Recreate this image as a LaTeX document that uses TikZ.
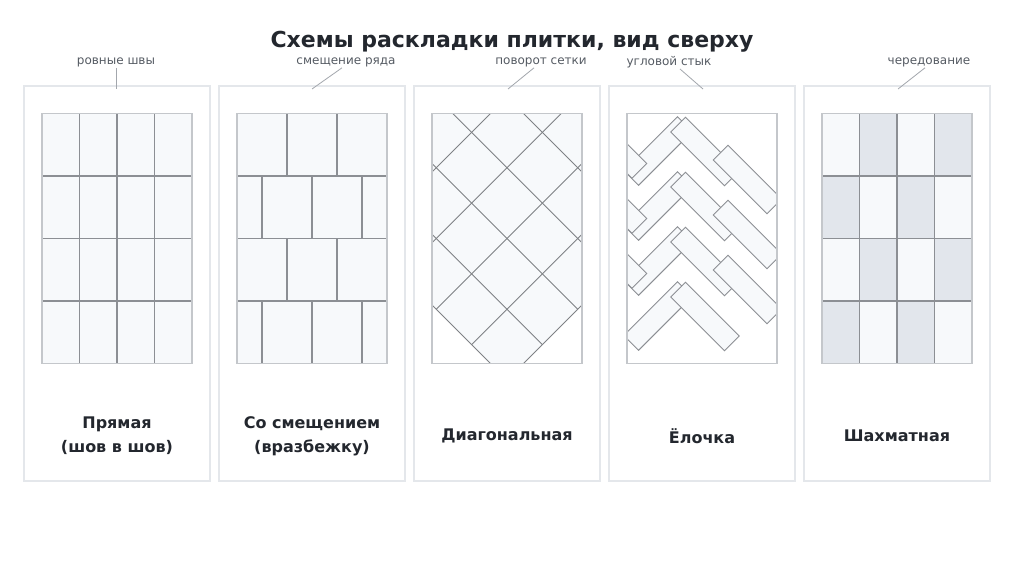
\documentclass[tikz,border=0pt]{standalone}
\usepackage{fontspec}
\setmainfont{DejaVu Sans}

\definecolor{ramka}{HTML}{E4E7EB}
\definecolor{kontur}{HTML}{C4C7CB}
\definecolor{shovcol}{HTML}{8C8F94}
\definecolor{svetl}{HTML}{F7F9FB}
\definecolor{temn}{HTML}{E2E6EC}
\definecolor{tekst}{HTML}{23272E}
\definecolor{seryj}{HTML}{555B63}
\definecolor{vynos}{HTML}{A3A7AD}

\tikzset{
  panel/.style={draw=ramka, line width=1.5pt, fill=white, minimum width=186pt, minimum height=395pt, inner sep=0pt},
  pole/.style={draw=kontur, line width=1.5pt},
  shov/.style={draw=shovcol, line width=1.2pt},
  diag/.style={draw=shovcol!90!black, line width=0.9pt},
  elka/.style={draw=shovcol, fill=svetl, line width=0.9pt},
  nazv/.style={font=\bfseries\fontsize{16}{24}\selectfont, text=tekst, align=center},
  pomet/.style={font=\fontsize{12}{14}\selectfont, text=seryj, inner sep=1pt},
  vynoska/.style={draw=vynos, line width=0.8pt},
}

\begin{document}
\begin{tikzpicture}[x=1pt, y=-1pt]
\useasboundingbox[fill=white] (0,0) rectangle (1024,576);

\node[font=\bfseries\fontsize{22}{26}\selectfont, text=tekst] (zag) at (512,42) {Схемы раскладки плитки, вид сверху};

% panels
\foreach \name/\cx in {pryam/117, smesch/312, diagon/507, elochka/702, shakh/897}
  \node[panel] (\name) at (\cx,283.5) {};

% 1: pryamaya
\fill[svetl] (42,113.5) rectangle (192,363.5);
\foreach \i in {1,2,3} {
  \draw[shov] (42+37.5*\i,113.5) -- (42+37.5*\i,363.5);
  \draw[shov] (42,113.5+62.5*\i) -- (192,113.5+62.5*\i);
}
\draw[pole] (42,113.5) rectangle (192,363.5);

% 2: so smescheniem
\fill[svetl] (237,113.5) rectangle (387,363.5);
\foreach \i in {1,2,3}
  \draw[shov] (237,113.5+62.5*\i) -- (387,113.5+62.5*\i);
\foreach \r in {0,2} {
  \foreach \x in {287,337}
    \draw[shov] (\x,113.5+62.5*\r) -- (\x,176+62.5*\r);
  \foreach \x in {262,312,362}
    \draw[shov] (\x,176+62.5*\r) -- (\x,238.5+62.5*\r);
}
\draw[pole] (237,113.5) rectangle (387,363.5);

% 3: diagonal
\begin{scope}
  \clip (432,113.5) -- (582,113.5) -- (582,304.9) -- (523.4,363.5) -- (490.6,363.5) -- (432,304.9) -- cycle;
  \fill[svetl] (432,113.5) rectangle (582,363.5);
  \foreach \k in {-2,...,1} {
    \draw[diag] (400,{131.5+70.71*\k}) -- (600,{331.5+70.71*\k});
    \draw[diag] (400,{345.5+70.71*\k}) -- (600,{145.5+70.71*\k});
  }
\end{scope}
\draw[diag] (432,304.9) -- (490.6,363.5);
\draw[diag] (582,304.9) -- (523.4,363.5);
\draw[pole] (432,113.5) rectangle (582,363.5);

% 4: elochka
\begin{scope}
  \clip (627,113.5) rectangle (777,363.5);
  \foreach \r in {0,...,3} {
    \draw[elka, shift={(658,151+55*\r)}, rotate=45] (-38,-10.5) rectangle (38,10.5);
    \draw[elka, shift={(705,151.5+55*\r)}, rotate=-45] (-38,-10.5) rectangle (38,10.5);
    \ifnum\r<3
      \draw[elka, shift={(747.5,179.5+55*\r)}, rotate=-45] (-38,-10.5) rectangle (38,10.5);
      \draw[elka, shift={(612.5,144+55*\r)}, rotate=-45] (-38,-10.5) rectangle (38,10.5);
    \fi
  }
\end{scope}
\draw[pole] (627,113.5) rectangle (777,363.5);

% 5: shakhmatnaya
\foreach \i in {0,...,3}
  \foreach \j in {0,...,3} {
    \ifodd\numexpr\i+\j\relax \def\ton{temn}\else\def\ton{svetl}\fi
    \fill[\ton] (822+37.5*\i,113.5+62.5*\j) rectangle +(37.5,62.5);
  }
\foreach \i in {1,2,3} {
  \draw[shov] (822+37.5*\i,113.5) -- (822+37.5*\i,363.5);
  \draw[shov] (822,113.5+62.5*\i) -- (972,113.5+62.5*\i);
}
\draw[pole] (822,113.5) rectangle (972,363.5);

% podpisi
\node[nazv] (pryam-t) at (117,436) {Прямая\\(шов в шов)};
\node[nazv] (smesch-t) at (312,436) {Со смещением\\(вразбежку)};
\node[nazv] (diagon-t) at (507,436) {Диагональная};
\node[nazv] (elochka-t) at (702,436) {Ёлочка};
\node[nazv] (shakh-t) at (897,436) {Шахматная};

% pometki
\node[pomet] (m-pryam) at (116,62) {ровные швы};
\node[pomet] (m-smesch) at (346,62) {смещение ряда};
\node[pomet] (m-diagon) at (541,62) {поворот сетки};
\node[pomet] (m-elochka) at (669,62) {угловой стык};
\node[pomet] (m-shakh) at (929,62) {чередование};
\coordinate (k-pryam) at (116,89);
\coordinate (k-smesch) at (312,89);
\coordinate (k-diagon) at (508,89);
\coordinate (k-elochka) at (703,89);
\coordinate (k-shakh) at (898,89);
\draw[vynoska] (m-pryam.south) -- (k-pryam);
\draw[vynoska] ([xshift=-4pt]m-smesch.south) -- (k-smesch);
\draw[vynoska] ([xshift=-7pt]m-diagon.south) -- (k-diagon);
\draw[vynoska] ([xshift=11pt]m-elochka.south) -- (k-elochka);
\draw[vynoska] ([xshift=-4pt]m-shakh.south) -- (k-shakh);
\end{tikzpicture}
\end{document}
